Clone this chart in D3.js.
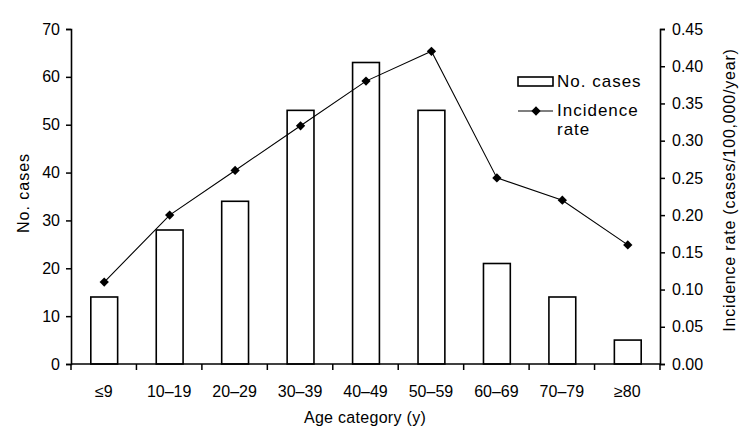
<!DOCTYPE html>
<html><head><meta charset="utf-8">
<script src="https://cdn.jsdelivr.net/npm/d3@7"></script>
<style>
body{margin:0;background:#fff;}
svg text{font-family:"Liberation Sans",Arial,sans-serif;fill:#000;}
</style></head>
<body><svg id="c" width="750" height="439"></svg>
<script>
const categories = ["≤9","10–19","20–29","30–39","40–49","50–59","60–69","70–79","≥80"];
const cases = [14,28,34,53,63,53,21,14,5];
const rates = [0.11,0.20,0.26,0.32,0.38,0.42,0.25,0.22,0.16];
const leftTicks = [0,10,20,30,40,50,60,70];
const rightTicks = [0,0.05,0.10,0.15,0.20,0.25,0.30,0.35,0.40,0.45];

const svg = d3.select("#c");
const L = 71, R = 660, T = 29, B = 364;
const x = d3.scaleBand().domain(categories).range([L, R]).padding(0);
const yL = d3.scaleLinear().domain([0,70]).range([B, T]);
const yR = d3.scaleLinear().domain([0,0.45]).range([B, T]);

// bars
const bw = x.bandwidth()*0.41;
svg.append("g").selectAll("rect").data(cases).join("rect")
  .attr("x",(d,i)=>x(categories[i])+x.bandwidth()/2-bw/2+0.5)
  .attr("y",d=>yL(d))
  .attr("width",bw)
  .attr("height",d=>B-yL(d))
  .attr("fill","#fff").attr("stroke","#000").attr("stroke-width",1.6);

// line
const line = d3.line().x((d,i)=>x(categories[i])+x.bandwidth()/2+0.5).y(d=>yR(d));
svg.append("path").datum(rates).attr("d",line).attr("fill","none").attr("stroke","#000").attr("stroke-width",1.1);
const diamond = d3.symbol().type(d3.symbolDiamond2).size(55);
svg.append("g").selectAll("path").data(rates).join("path")
  .attr("d",diamond)
  .attr("transform",(d,i)=>`translate(${x(categories[i])+x.bandwidth()/2+0.5},${yR(d)})`)
  .attr("fill","#000");

// left axis
const gL = svg.append("g").attr("transform",`translate(${L},0)`)
  .call(d3.axisLeft(yL).tickValues(leftTicks).tickSize(5).tickPadding(6).tickFormat(d3.format("d")));
// right axis
const gR = svg.append("g").attr("transform",`translate(${R},0)`)
  .call(d3.axisRight(yR).tickValues(rightTicks).tickSize(5).tickPadding(7).tickFormat(d3.format(".2f")));
// bottom axis: labels at centres
const gB = svg.append("g").attr("transform",`translate(0,${B})`)
  .call(d3.axisBottom(x).tickSize(0).tickPadding(22));
gB.select(".domain").remove();
// boundary ticks
const edges = categories.map(c=>x(c)).concat([R]);
svg.append("g").selectAll("line").data(edges).join("line")
  .attr("x1",d=>d).attr("x2",d=>d).attr("y1",B).attr("y2",B+6)
  .attr("stroke","#000").attr("stroke-width",1.5);
svg.append("line").attr("x1",L).attr("x2",R).attr("y1",B).attr("y2",B).attr("stroke","#000").attr("stroke-width",1.6);

[gL,gR,gB].forEach(g=>{
  g.selectAll("text").attr("font-size",16).attr("font-family","Liberation Sans, Arial, sans-serif");
  g.selectAll(".tick line").attr("stroke-width",1.5);
  g.select(".domain").attr("stroke-width",1.6);
});

// titles
svg.append("text").attr("transform","translate(29,193) rotate(-90)").attr("text-anchor","middle")
  .attr("font-size",16).attr("letter-spacing",1).text("No. cases");
svg.append("text").attr("transform","translate(735,190) rotate(-90)").attr("text-anchor","middle")
  .attr("font-size",16).attr("letter-spacing",0.8).text("Incidence rate (cases/100,000/year)");
svg.append("text").attr("x",365).attr("y",423).attr("text-anchor","middle")
  .attr("font-size",16).attr("letter-spacing",0.3).text("Age category (y)");

// legend
const lg = svg.append("g");
lg.append("rect").attr("x",518).attr("y",77).attr("width",35).attr("height",9)
  .attr("fill","#fff").attr("stroke","#000").attr("stroke-width",1.6);
lg.append("text").attr("x",557).attr("y",87).attr("font-size",17).attr("letter-spacing",1).text("No. cases");
lg.append("line").attr("x1",518).attr("x2",553).attr("y1",111).attr("y2",111).attr("stroke","#000").attr("stroke-width",1.1);
lg.append("path").attr("d",diamond).attr("transform","translate(536,111)").attr("fill","#000");
lg.append("text").attr("x",557).attr("y",116).attr("font-size",17).attr("letter-spacing",1).text("Incidence");
lg.append("text").attr("x",557).attr("y",135).attr("font-size",17).attr("letter-spacing",1).text("rate");
</script></body></html>
